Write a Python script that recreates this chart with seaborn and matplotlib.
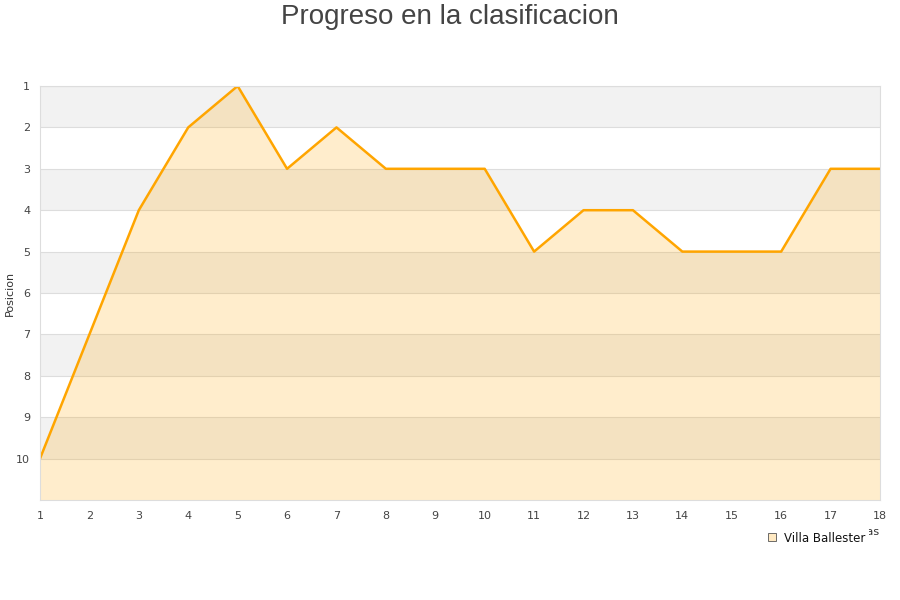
import matplotlib
matplotlib.use("Agg")
import matplotlib.pyplot as plt
import seaborn as sns
import pandas as pd
from matplotlib.lines import Line2D

jornadas = list(range(1, 19))
posiciones = [10, 7, 4, 2, 1, 3, 2, 3, 3, 3, 5, 4, 4, 5, 5, 5, 3, 3]
equipo = "Villa Ballester"
titulo = "Progreso en la clasificacion"
ylabel = "Posicion"
xlabel = "Jornadas"

df = pd.DataFrame({"Jornada": jornadas, "Posicion": posiciones})

sns.set_style("white")
plt.rcParams["font.family"] = ["DejaVu Sans"]

fig = plt.figure(figsize=(9, 6), dpi=100)
ax = fig.add_axes([40 / 900, 1 - 500 / 600, 840 / 900, 414 / 600])

# alternating bands
for k in range(1, 11):
    if k % 2 == 1:
        ax.axhspan(k, k + 1, color="#f2f2f2", zorder=0, lw=0)
for k in range(1, 11):
    ax.axhline(k, color="#dddddd", lw=0.8, zorder=0.5)

ax.fill_between(df["Jornada"], df["Posicion"], 11, color="#FFA500", alpha=0.2, lw=0, zorder=1)
sns.lineplot(data=df, x="Jornada", y="Posicion", ax=ax, color="#FFA500", lw=1.8, zorder=2)

ax.set_xlim(1, 18)
ax.set_ylim(11, 1)
ax.set_xticks(jornadas)
ax.set_yticks(range(1, 11))
ax.tick_params(axis="both", labelsize=8, colors="#444444", length=0)
ax.tick_params(axis="y", pad=7)
ax.tick_params(axis="x", pad=8)
ax.set_xlabel("")
ax.set_ylabel("")
for s in ax.spines.values():
    s.set_color("#dddddd")
    s.set_linewidth(0.8)

fig.text(10 / 900, 1 - 293 / 600, ylabel, rotation=90, ha="center", va="center",
         fontsize=8, color="#333333")

fig.text(0.5, 1 - 17 / 600, titulo, ha="center", va="center", fontsize=20,
         color="#444444", family="Liberation Sans")

fig.text(880 / 900, 1 - 532 / 600, xlabel, ha="right", va="center", fontsize=8, color="#333333")

handle = Line2D([], [], marker="s", linestyle="none", markersize=6,
                markerfacecolor="#ffe9c2", markeredgecolor="#555555", markeredgewidth=0.6)
leg = fig.legend([handle], [equipo], loc="center left",
                 bbox_to_anchor=(756 / 900, 1 - 538 / 600), frameon=True,
                 fontsize=8.5, handletextpad=0.5, borderpad=0.35, handlelength=1.0)
leg.get_frame().set_facecolor("white")
leg.get_frame().set_edgecolor("none")
leg.get_frame().set_alpha(1)
for t in leg.get_texts():
    t.set_color("#111111")

fig.savefig("out.png", dpi=100)
